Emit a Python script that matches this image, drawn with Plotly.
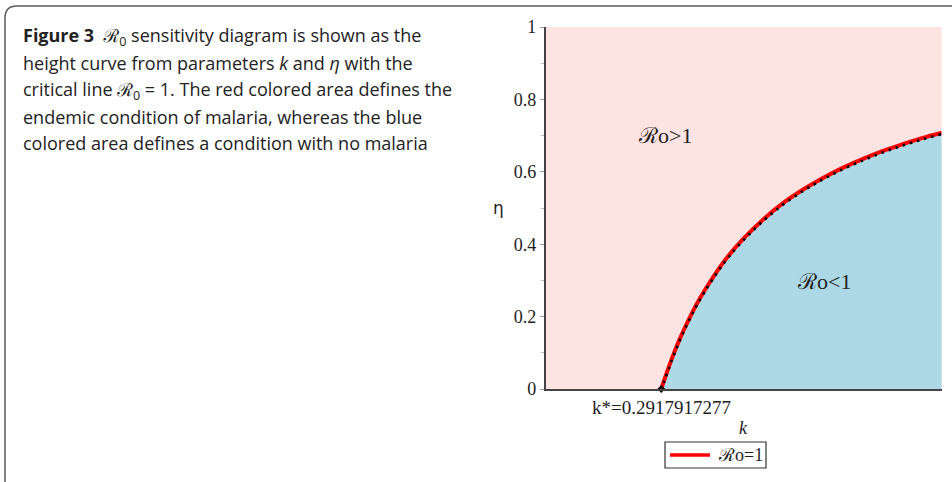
import plotly.graph_objects as go

W, H = 952, 482

# R0 = 1 critical curve: eta against k
k_vals = [0.2918, 0.30, 0.32, 0.34, 0.36, 0.38, 0.40, 0.43, 0.46, 0.50, 0.55,
          0.60, 0.65, 0.70, 0.75, 0.80, 0.85, 0.90, 0.95, 1.00]
eta_vals = [0.0, 0.027, 0.088, 0.142, 0.189, 0.232, 0.270, 0.321, 0.366, 0.416, 0.469,
            0.514, 0.551, 0.583, 0.611, 0.635, 0.657, 0.676, 0.693, 0.708]
k_star = 0.2917917277

y_ticks = [0, 0.2, 0.4, 0.6, 0.8, 1]
y_tick_text = ["0", "0.2", "0.4", "0.6", "0.8", "1"]

caption_lines = [
    "<b>Figure 3</b>&nbsp;&nbsp;ℛ<sub>0</sub> sensitivity diagram is shown as the",
    "height curve from parameters <i>k</i> and <i>η</i> with the",
    "critical line ℛ<sub>0</sub> = 1. The red colored area defines the",
    "endemic condition of malaria, whereas the blue",
    "colored area defines a condition with no malaria",
]

SERIF = "Liberation Serif, Times New Roman, serif"
SANS = "Open Sans, Noto Sans, sans-serif"
INK = "#222"

def px(x):
    return x / W

def py(y):
    return 1 - y / H

fig = go.Figure()

# blue region under the critical curve
fig.add_trace(go.Scatter(
    x=k_vals, y=eta_vals, mode="lines", fill="tozeroy",
    fillcolor="#ADD8E6", line=dict(width=0, shape="spline"),
    hoverinfo="skip"))

# critical line R0 = 1
fig.add_trace(go.Scatter(
    x=k_vals, y=eta_vals, mode="lines", name="ℛo=1",
    line=dict(color="#FF0000", width=4, shape="spline")))

# dotted overlay on the critical line
fig.add_trace(go.Scatter(
    x=k_vals, y=[v - 0.004 for v in eta_vals], mode="lines",
    line=dict(color="black", width=2.6, dash="2.5px,5px", shape="spline"),
    hoverinfo="skip"))

# threshold point k*
fig.add_trace(go.Scatter(
    x=[k_star], y=[0], mode="markers",
    marker=dict(color="black", size=6, symbol="diamond"),
    hoverinfo="skip", cliponaxis=False))

x0, x1 = 545.7, 941.7
y_top, y_bot = 27, 389

fig.update_layout(
    width=W, height=H,
    margin=dict(l=0, r=0, t=0, b=0, autoexpand=False),
    paper_bgcolor="white",
    plot_bgcolor="#FDE3E1",
    showlegend=False,
    xaxis=dict(domain=[px(x0), px(x1)], range=[0, 1], showgrid=False,
               zeroline=False, showline=True, linecolor="#444", linewidth=1.5,
               showticklabels=False, ticks=""),
    yaxis=dict(domain=[py(y_bot), py(y_top)], range=[0, 1], showgrid=False,
               zeroline=False, showline=True, linecolor="#444", linewidth=1.5,
               tickvals=y_ticks, ticktext=y_tick_text, ticks="outside",
               ticklen=4, tickcolor="#999", tickwidth=1,
               tickfont=dict(family=SERIF, size=18, color=INK),
               minor=dict(dtick=0.1, ticks="outside", ticklen=3,
                          tickcolor="#bbb")),
)

annotations = [
    dict(x=k_star, y=py(407), xref="x", yref="paper", yanchor="middle",
         text="k*=0.2917917277", showarrow=False,
         font=dict(family=SERIF, size=19, color=INK)),
    dict(x=0.5, y=py(428), xref="x", yref="paper", yanchor="middle",
         text="<i>k</i>", showarrow=False,
         font=dict(family=SERIF, size=18, color=INK)),
    dict(x=px(498), y=0.5, xref="paper", yref="y", xanchor="center",
         yanchor="middle", text="η", showarrow=False,
         font=dict(family="DejaVu Sans, sans-serif", size=17, color=INK)),
    dict(x=0.30, y=0.70, xref="x", yref="y", text="ℛo>1",
         showarrow=False, font=dict(family=SERIF, size=22, color=INK)),
    dict(x=0.703, y=0.298, xref="x", yref="y", text="ℛo<1",
         showarrow=False, font=dict(family=SERIF, size=22, color=INK)),
    # legend entry text
    dict(x=px(716), y=py(455), xref="paper", yref="paper", xanchor="left",
         yanchor="middle", text="ℛo=1", showarrow=False,
         font=dict(family=SERIF, size=18, color=INK)),
]

centers = [37, 63.5, 90, 116.5, 143]
for line, c in zip(caption_lines, centers):
    annotations.append(dict(
        x=px(21), y=py(c), xref="paper", yref="paper",
        xanchor="left", yanchor="middle", text=line, showarrow=False,
        font=dict(family=SANS, size=18, color=INK)))

fig.update_layout(annotations=annotations)

# legend box and its red line sample
fig.add_shape(type="rect", xref="paper", yref="paper",
              x0=px(665), x1=px(766), y0=py(468), y1=py(442),
              line=dict(color="#333", width=1.2), fillcolor="white")
fig.add_shape(type="line", xref="paper", yref="paper",
              x0=px(670), x1=px(710), y0=py(455), y1=py(455),
              line=dict(color="#FF0000", width=3.5))

# frame around the figure panel with a rounded top-left corner
r = 12
path = (f"M {px(5)},{py(H + 2)} L {px(5)},{py(6 + r)} "
        f"Q {px(5)},{py(6)} {px(5 + r)},{py(6)} L {px(W + 2)},{py(6)}")
fig.add_shape(type="path", path=path, xref="paper", yref="paper",
              line=dict(color="#5a5a5a", width=1.5))

fig.write_html("out.html")
